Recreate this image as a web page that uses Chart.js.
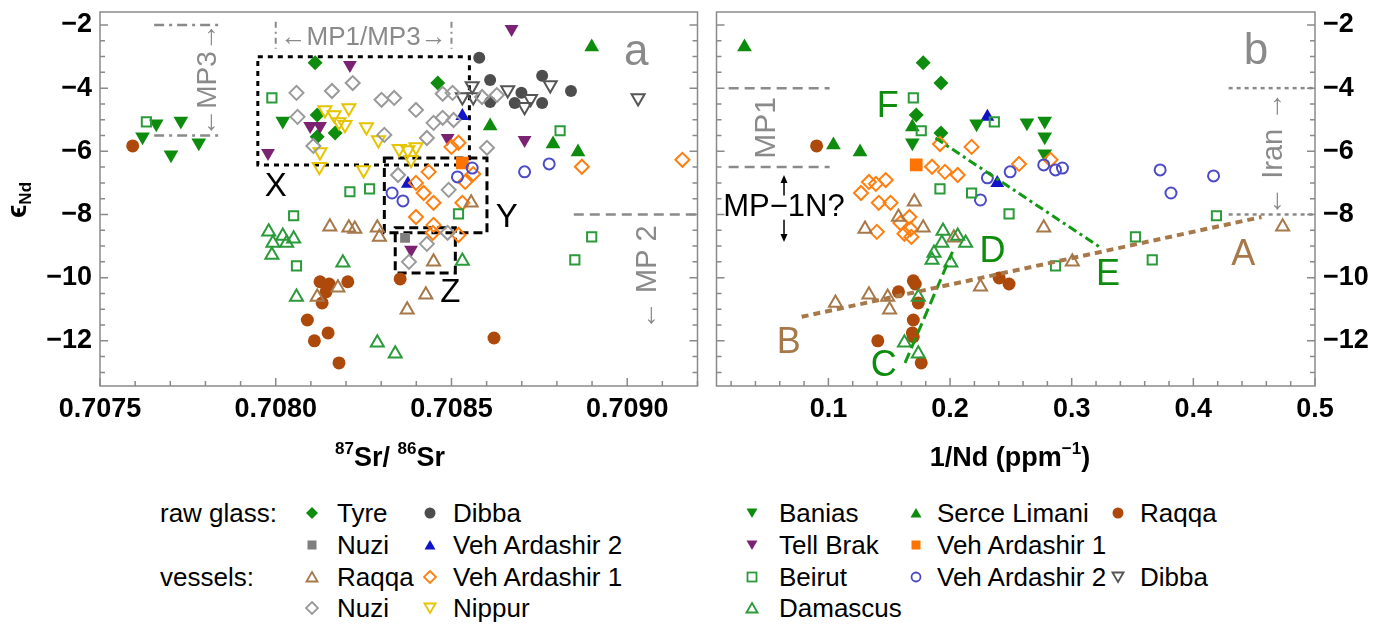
<!DOCTYPE html>
<html>
<head>
<meta charset="utf-8">
<title>Sr-Nd vidrio</title>
<script src="https://cdn.jsdelivr.net/npm/chart.js@4.4.1/dist/chart.umd.min.js"></script>
<style>
  body { margin: 0; background: #fff; }
  #pagina { position: relative; width: 1382px; height: 626px; overflow: hidden; font-family: "Liberation Sans", Arial, sans-serif; }
  #panelA { position: absolute; left: 0; top: 0; }
  #panelB { position: absolute; left: 707px; top: 0; }
  .ley { position: absolute; font-size: 26px; line-height: 30px; color: #000; white-space: nowrap; }
  .marca { position: absolute; }
</style>
</head>
<body>
<div id="pagina">
  <canvas id="panelA" width="707" height="480"></canvas>
  <canvas id="panelB" width="675" height="480"></canvas>
  <div id="leyenda"></div>
</div>
<script>
// ejes
const xTicksSr = [0.7075, 0.7080, 0.7085, 0.7090]
const xTicksNd = [0.1, 0.2, 0.3, 0.4, 0.5]
const yTicks = [-2, -4, -6, -8, -10, -12]

// panel a: 87Sr/86Sr vs eNd
const tyreSr = [0.708112, 0.708461, 0.708118, 0.708169, 0.708118]
const tyreEa = [-3.20, -3.84, -4.85, -5.42, -5.54]
const nuziRawSr = [0.708368]
const nuziRawEa = [-8.74]
const dibbaRawSr = [0.708579, 0.708610, 0.708758, 0.708840, 0.708699, 0.708680, 0.708758, 0.708610]
const dibbaRawEa = [-3.04, -3.74, -3.61, -4.09, -4.15, -4.47, -4.47, -4.44]
const va2RawSr = [0.708531, 0.708376]
const va2RawEa = [-4.88, -7.03]
const baniasSr = [0.707621, 0.707660, 0.707730, 0.707702, 0.707781, 0.708020]
const baniasEa = [-5.54, -5.13, -5.04, -6.11, -5.73, -5.04]
const tellBrakSr = [0.708671, 0.708211, 0.708098, 0.708126, 0.707978, 0.708489, 0.708708, 0.708385]
const tellBrakEa = [-2.13, -3.27, -5.20, -5.20, -6.05, -5.58, -5.64, -9.12]
const serceSr = [0.708899, 0.708610, 0.708789, 0.708860]
const serceEa = [-2.70, -5.20, -5.77, -6.02]
const va1RawSr = [0.708531]
const va1RawEa = [-6.37]
const raqqaRawSr = [0.707593, 0.708126, 0.708152, 0.708205, 0.708143, 0.708132, 0.708090, 0.708110, 0.708149, 0.708180, 0.708354, 0.708621]
const raqqaRawEa = [-5.83, -10.13, -10.20, -10.13, -10.45, -10.80, -11.34, -12.00, -11.75, -12.70, -10.04, -11.91]
const raqqaVesSr = [0.708154, 0.708208, 0.708225, 0.708289, 0.708295, 0.708449, 0.708177, 0.708118, 0.708427, 0.708374, 0.708556]
const raqqaVesEa = [-8.39, -8.42, -8.46, -8.42, -8.71, -9.50, -10.32, -10.61, -10.54, -11.02, -7.63]
const va1VesSr = [0.708500, 0.708520, 0.708871, 0.709157, 0.708435, 0.708399, 0.708539, 0.708562, 0.708421, 0.708449, 0.708531, 0.708399, 0.708449, 0.708447, 0.708520]
const va1VesEa = [-5.86, -5.73, -6.49, -6.27, -6.65, -7.00, -6.97, -6.72, -7.32, -7.63, -7.63, -8.08, -8.33, -8.58, -8.65]
const beirutSr = [0.707989, 0.707632, 0.708809, 0.708211, 0.708267, 0.708051, 0.708059, 0.708520, 0.708899, 0.708851]
const beirutEa = [-4.31, -5.07, -5.35, -7.28, -7.19, -8.04, -9.63, -7.98, -8.71, -9.44]
const va2VesSr = [0.708708, 0.708778, 0.708517, 0.708559, 0.708331, 0.708362]
const va2VesEa = [-6.65, -6.40, -6.81, -6.53, -7.32, -7.57]
const dibbaVesSr = [0.708559, 0.708531, 0.708562, 0.708660, 0.708725, 0.708708, 0.708781, 0.709031]
const dibbaVesEa = [-3.93, -4.28, -4.28, -4.06, -4.34, -4.59, -3.90, -4.31]
const nuziVesSr = [0.708059, 0.708160, 0.708219, 0.708062, 0.708301, 0.708337, 0.708399, 0.708475, 0.708503, 0.708449, 0.708475, 0.708506, 0.708309, 0.708430, 0.708107, 0.708348, 0.708587, 0.708629, 0.708601, 0.708492, 0.708430, 0.708379, 0.708489]
const nuziVesEa = [-4.15, -4.09, -3.84, -4.91, -4.37, -4.31, -4.69, -4.18, -4.15, -5.10, -4.94, -5.01, -5.48, -5.58, -5.83, -6.75, -4.28, -4.22, -5.89, -7.22, -8.93, -9.50, -8.58]
const nippurSr = [0.708140, 0.708166, 0.708208, 0.708180, 0.708197, 0.708258, 0.708292, 0.708126, 0.708351, 0.708376, 0.708399, 0.708124, 0.708250, 0.708385]
const nippurEa = [-4.69, -4.85, -4.63, -5.07, -5.16, -5.23, -5.64, -6.02, -5.92, -5.96, -5.86, -6.49, -6.59, -6.27]
const damascusSr = [0.707980, 0.708020, 0.708051, 0.707992, 0.708031, 0.707989, 0.708191, 0.708059, 0.708289, 0.708340, 0.708531]
const damascusEa = [-8.55, -8.68, -8.77, -8.90, -8.90, -9.28, -9.53, -10.61, -12.06, -12.41, -9.47]

// panel b: 1/Nd vs eNd
const tyreInv = [0.1779, 0.1925, 0.1722, 0.1925]
const tyreEb = [-3.20, -3.84, -4.85, -5.42]
const serceInv = [0.0310, 0.1041, 0.1260, 0.1690]
const serceEb = [-2.70, -5.80, -6.02, -5.23]
const raqqaRawInv = [0.0903, 0.1698, 0.1714, 0.1576, 0.1739, 0.1698, 0.1690, 0.1698, 0.1406, 0.1763, 0.2404, 0.2485]
const raqqaRawEb = [-5.83, -10.10, -10.20, -10.45, -10.80, -11.34, -11.75, -11.87, -12.00, -12.70, -10.01, -10.20]
const baniasInv = [0.1690, 0.2218, 0.2632, 0.2778, 0.2778, 0.2778]
const baniasEb = [-5.73, -5.13, -5.10, -5.04, -5.54, -6.08]
const beirutInv = [0.1698, 0.1763, 0.2364, 0.1917, 0.2177, 0.2485, 0.2867, 0.3524, 0.3662, 0.4190]
const beirutEb = [-4.31, -5.35, -5.07, -7.19, -7.32, -7.98, -9.63, -8.71, -9.44, -8.04]
const va2RawInv = [0.2307, 0.2388]
const va2RawEb = [-4.91, -7.00]
const va1RawInv = [0.1722]
const va1RawEb = [-6.43]
const va1VesInv = [0.1917, 0.2177, 0.1852, 0.1958, 0.2063, 0.2567, 0.2826, 0.1333, 0.1390, 0.1471, 0.1268, 0.1414, 0.1511, 0.1666, 0.1592, 0.1674, 0.1625, 0.1682, 0.1398]
const va1VesEb = [-5.77, -5.86, -6.49, -6.65, -6.75, -6.40, -6.27, -6.97, -7.03, -6.91, -7.32, -7.63, -7.63, -8.08, -8.27, -8.46, -8.61, -8.71, -8.55]
const va2VesInv = [0.2307, 0.2494, 0.2250, 0.2770, 0.2867, 0.2924, 0.3727, 0.3816, 0.4166]
const va2VesEb = [-6.84, -6.65, -7.54, -6.43, -6.59, -6.53, -6.59, -7.32, -6.78]
const raqqaVesInv = [0.1706, 0.1576, 0.1301, 0.1779, 0.2031, 0.2770, 0.1058, 0.1333, 0.1487, 0.1503, 0.2250, 0.3005, 0.4734]
const raqqaVesEb = [-7.60, -8.08, -8.46, -8.42, -8.74, -8.42, -10.80, -10.54, -10.61, -11.02, -10.29, -9.50, -8.39]
const damascusInv = [0.1942, 0.1933, 0.2128, 0.1868, 0.1852, 0.2006, 0.1739, 0.1625, 0.1739, 0.2063]
const damascusEb = [-8.52, -8.90, -8.90, -9.22, -9.44, -9.53, -10.61, -12.06, -12.41, -8.68]

// lineas de mezcla
const mezclaBAx = [0.078, 0.456]
const mezclaBAy = [-11.24, -8.08]
const mezclaCDx = [0.163, 0.202]
const mezclaCDy = [-12.70, -9.18]
const mezclaFEx = [0.188, 0.323]
const mezclaFEy = [-5.58, -9.03]

// estilos
const verde = "#0e8c0e"
const verdeClaro = "#2a9a3a"
const gris = "#8a8a8a"
const cafe = "#a6784a"
const est = {
  tyre: { forma: "rectRot", r: 7.5, color: verde, relleno: true },
  nuziRaw: { forma: "rect", r: 7, color: "#7f7f7f", relleno: true },
  dibbaRaw: { forma: "circle", r: 6, color: "#4d4d4d", relleno: true },
  va2Raw: { forma: "triangle", r: 8, color: "#1212c8", relleno: true },
  banias: { forma: "triangle", r: 8.5, rot: 180, color: verde, relleno: true },
  tellBrak: { forma: "triangle", r: 8, rot: 180, color: "#7b2272", relleno: true },
  serce: { forma: "triangle", r: 8.5, color: verde, relleno: true },
  va1Raw: { forma: "rect", r: 9, color: "#ff7400", relleno: true },
  raqqaRaw: { forma: "circle", r: 6.5, color: "#ad4a0b", relleno: true },
  raqqaVes: { forma: "triangle", r: 7.5, color: cafe },
  va1Ves: { forma: "rectRot", r: 7, color: "#ff7f10" },
  beirut: { forma: "rect", r: 6.5, color: verdeClaro },
  va2Ves: { forma: "circle", r: 5.5, color: "#4b4bc8" },
  dibbaVes: { forma: "triangle", r: 7.5, rot: 180, color: "#555555" },
  nuziVes: { forma: "rectRot", r: 7, color: "#9a9a9a" },
  nippur: { forma: "triangle", r: 7.5, rot: 180, color: "#e6c400" },
  damascus: { forma: "triangle", r: 7.5, color: verdeClaro }
}

function serie(xs, ys, st) {
  return {
    data: xs.map((x, i) => ({ x: x, y: ys[i] })),
    showLine: false,
    pointStyle: st.forma,
    pointRadius: st.r,
    pointHoverRadius: st.r,
    pointRotation: st.rot || 0,
    pointBackgroundColor: st.relleno ? st.color : "rgba(0,0,0,0)",
    pointBorderColor: st.color,
    pointBorderWidth: st.relleno ? 0 : 2
  }
}

function linea(xs, ys, color, ancho, guiones) {
  return {
    data: xs.map((x, i) => ({ x: x, y: ys[i] })),
    showLine: true,
    borderColor: color,
    borderWidth: ancho,
    borderDash: guiones,
    pointRadius: 0,
    pointHoverRadius: 0
  }
}

//funcion para texto con super/subindices
function textoRico(ctx, partes, cx, base) {
  let total = 0
  partes.forEach(p => {
    ctx.font = `bold ${p.s}px "Liberation Sans", "DejaVu Sans", sans-serif`
    p.w = ctx.measureText(p.t).width
    total += p.w
  })
  let x = cx - total / 2
  ctx.textAlign = "left"
  ctx.textBaseline = "alphabetic"
  partes.forEach(p => {
    ctx.font = `bold ${p.s}px "Liberation Sans", "DejaVu Sans", sans-serif`
    ctx.fillText(p.t, x, base + (p.dy || 0))
    x += p.w
  })
}

//marco y marcas internas
function marco(chart, cfg) {
  const { ctx, chartArea: a, scales } = chart
  const sx = scales.x, sy = scales.y
  ctx.save()
  ctx.strokeStyle = gris
  ctx.lineWidth = 1.5
  ctx.strokeRect(a.left, a.top, a.right - a.left, a.bottom - a.top)
  ctx.beginPath()
  for (let i = 0; i < 200; i++) {
    const v = cfg.x0 + i * cfg.paso
    if (v > sx.max + 1e-9) break
    if (v < sx.min) continue
    const p = sx.getPixelForValue(v)
    const largo = i % 5 === 0 ? 8 : 5
    ctx.moveTo(p, a.bottom)
    ctx.lineTo(p, a.bottom - largo)
  }
  for (let v = -13; v <= -2; v += 0.5) {
    const p = sy.getPixelForValue(v)
    const largo = v % 2 === 0 ? 8 : 5
    ctx.moveTo(a.left, p)
    ctx.lineTo(a.left + largo, p)
    ctx.moveTo(a.right, p)
    ctx.lineTo(a.right - largo, p)
  }
  ctx.stroke()
  ctx.restore()
}

function dibujarNota(chart, m) {
  const { ctx } = chart
  const X = v => chart.scales.x.getPixelForValue(v)
  const Y = v => chart.scales.y.getPixelForValue(v)
  ctx.save()
  ctx.strokeStyle = m.color || "#000"
  ctx.fillStyle = m.color || "#000"
  ctx.lineWidth = m.w || 2
  ctx.setLineDash(m.dash || [])
  if (m.tipo === "seg") {
    ctx.beginPath()
    ctx.moveTo(X(m.x1), Y(m.y1))
    ctx.lineTo(X(m.x2), Y(m.y2))
    ctx.stroke()
  } else if (m.tipo === "caja") {
    ctx.strokeRect(X(m.x1), Y(m.y1), X(m.x2) - X(m.x1), Y(m.y2) - Y(m.y1))
  } else if (m.tipo === "flecha") {
    const x = X(m.x), a = Y(m.y1), b = Y(m.y2)
    const d = b > a ? 1 : -1
    ctx.lineWidth = 1.5
    ctx.beginPath()
    ctx.moveTo(x, a)
    ctx.lineTo(x, b - d * 4)
    ctx.stroke()
    ctx.beginPath()
    ctx.moveTo(x, b)
    ctx.lineTo(x - 3.5, b - d * 8)
    ctx.lineTo(x + 3.5, b - d * 8)
    ctx.closePath()
    ctx.fill()
  } else if (m.tipo === "texto") {
    ctx.font = `${m.s}px "Liberation Sans", Arial, sans-serif`
    ctx.textAlign = m.al || "center"
    ctx.textBaseline = "middle"
    ctx.translate(X(m.x), Y(m.y))
    if (m.rot) ctx.rotate(-Math.PI / 2)
    ctx.fillText(m.t, 0, 0)
  }
  ctx.restore()
}

function hacerDeco(cfg) {
  return {
    id: "deco",
    beforeDatasetsDraw(chart) {
      marco(chart, cfg)
      cfg.notas.filter(m => m.tipo !== "texto").forEach(m => dibujarNota(chart, m))
    },
    afterDatasetsDraw(chart) {
      cfg.notas.filter(m => m.tipo === "texto").forEach(m => dibujarNota(chart, m))
      cfg.titulo(chart.ctx)
    }
  }
}

const notasA = [
  { tipo: "seg", x1: 0.707654, x2: 0.707837, y1: -2, y2: -2, color: gris, w: 2.5, dash: [10, 5, 3, 5] },
  { tipo: "seg", x1: 0.707654, x2: 0.707837, y1: -5.5, y2: -5.5, color: gris, w: 2.5, dash: [10, 5, 3, 5] },
  { tipo: "seg", x1: 0.7080, x2: 0.7080, y1: -1.9, y2: -2.75, color: gris, w: 2, dash: [6, 4, 2, 4] },
  { tipo: "seg", x1: 0.7085, x2: 0.7085, y1: -1.9, y2: -2.75, color: gris, w: 2, dash: [6, 4, 2, 4] },
  { tipo: "seg", x1: 0.708848, x2: 0.7092, y1: -8, y2: -8, color: gris, w: 2.5, dash: [10, 6] },
  { tipo: "caja", x1: 0.707949, x2: 0.708551, y1: -3.01, y2: -6.43, w: 3, dash: [5, 5] },
  { tipo: "caja", x1: 0.708309, x2: 0.708601, y1: -6.21, y2: -8.58, w: 3, dash: [9, 5] },
  { tipo: "caja", x1: 0.708340, x2: 0.708511, y1: -8.42, y2: -9.85, w: 3, dash: [9, 5] },
  { tipo: "texto", t: "X", x: 0.708000, y: -7.13, s: 33 },
  { tipo: "texto", t: "Y", x: 0.708657, y: -8.11, s: 33 },
  { tipo: "texto", t: "Z", x: 0.708497, y: -10.48, s: 33 },
  { tipo: "texto", t: "a", x: 0.709026, y: -2.89, s: 44, color: gris },
  { tipo: "texto", t: "←MP1/MP3→", x: 0.708250, y: -2.41, s: 26, color: gris },
  { tipo: "texto", t: "←MP3→", x: 0.707809, y: -3.74, s: 28, color: gris, rot: true },
  { tipo: "texto", t: "← MP 2", x: 0.709059, y: -10.0, s: 29, color: gris, rot: true }
]

const notasB = [
  { tipo: "seg", x1: 0.018, x2: 0.101, y1: -4, y2: -4, color: gris, w: 2.5, dash: [10, 6] },
  { tipo: "seg", x1: 0.018, x2: 0.101, y1: -6.5, y2: -6.5, color: gris, w: 2.5, dash: [10, 6] },
  { tipo: "seg", x1: 0.429, x2: 0.5, y1: -4, y2: -4, color: gris, w: 2.5, dash: [4, 4] },
  { tipo: "seg", x1: 0.429, x2: 0.5, y1: -8, y2: -8, color: gris, w: 2.5, dash: [4, 4] },
  { tipo: "flecha", x: 0.0635, y1: -7.4, y2: -6.75 },
  { tipo: "flecha", x: 0.0635, y1: -8.17, y2: -8.87 },
  { tipo: "texto", t: "MP1", x: 0.0497, y: -5.26, s: 30, color: gris, rot: true },
  { tipo: "texto", t: "MP−1N?", x: 0.0135, y: -7.79, s: 31, al: "left" },
  { tipo: "texto", t: "← Iran →", x: 0.4661, y: -6.08, s: 29, color: gris, rot: true },
  { tipo: "texto", t: "b", x: 0.4515, y: -2.85, s: 44, color: gris },
  { tipo: "texto", t: "F", x: 0.1487, y: -4.59, s: 36, color: verde },
  { tipo: "texto", t: "C", x: 0.1455, y: -12.8, s: 36, color: verde },
  { tipo: "texto", t: "D", x: 0.2348, y: -9.18, s: 36, color: verde },
  { tipo: "texto", t: "E", x: 0.3298, y: -9.91, s: 36, color: verde },
  { tipo: "texto", t: "A", x: 0.4410, y: -9.28, s: 36, color: cafe },
  { tipo: "texto", t: "B", x: 0.0674, y: -12.06, s: 36, color: cafe }
]

const fuenteTick = { family: "Liberation Sans", size: 27, weight: "bold" }
const menos = v => (v < 0 ? "\u2212" : "") + Math.abs(v)

function ejeY(posicion, ancho, mostrar) {
  return {
    type: "linear", position: posicion, min: -13.43, max: -1.59,
    grid: { display: false, drawTicks: false }, border: { display: false },
    ticks: { display: mostrar, color: "#000", font: fuenteTick, padding: 8, callback: menos },
    afterBuildTicks: s => { s.ticks = yTicks.map(v => ({ value: v })) },
    afterFit: s => { s.width = ancho; s.paddingTop = 0; s.paddingBottom = 0 }
  }
}

function ejeX(min, max, marcas, dec) {
  return {
    type: "linear", position: "bottom", min: min, max: max,
    grid: { display: false, drawTicks: false }, border: { display: false },
    ticks: { color: "#000", font: fuenteTick, padding: 7, maxRotation: 0, autoSkip: false, callback: v => v.toFixed(dec) },
    afterBuildTicks: s => { s.ticks = marcas.map(v => ({ value: v })) },
    afterFit: s => { s.height = 94; s.paddingLeft = 0; s.paddingRight = 0 }
  }
}

const opcionesBase = {
  responsive: false, animation: false, devicePixelRatio: 1,
  plugins: { legend: { display: false }, tooltip: { enabled: false } },
  events: []
}

//panel a
const datosA = [
  serie(damascusSr, damascusEa, est.damascus),
  serie(raqqaVesSr, raqqaVesEa, est.raqqaVes),
  serie(beirutSr, beirutEa, est.beirut),
  serie(nuziVesSr, nuziVesEa, est.nuziVes),
  serie(nippurSr, nippurEa, est.nippur),
  serie(va2VesSr, va2VesEa, est.va2Ves),
  serie(va1VesSr, va1VesEa, est.va1Ves),
  serie(dibbaVesSr, dibbaVesEa, est.dibbaVes),
  serie(dibbaRawSr, dibbaRawEa, est.dibbaRaw),
  serie(raqqaRawSr, raqqaRawEa, est.raqqaRaw),
  serie(nuziRawSr, nuziRawEa, est.nuziRaw),
  serie(va1RawSr, va1RawEa, est.va1Raw),
  serie(serceSr, serceEa, est.serce),
  serie(baniasSr, baniasEa, est.banias),
  serie(tellBrakSr, tellBrakEa, est.tellBrak),
  serie(va2RawSr, va2RawEa, est.va2Raw),
  serie(tyreSr, tyreEa, est.tyre)
]

new Chart(document.querySelector("#panelA"), {
  type: "scatter",
  data: { datasets: datosA },
  options: Object.assign({}, opcionesBase, {
    layout: { padding: { top: 12, right: 2, left: 0, bottom: 0 } },
    scales: { x: ejeX(0.7075, 0.7092, xTicksSr, 4), y: ejeY("left", 100, true) }
  }),
  plugins: [hacerDeco({
    x0: 0.7075, paso: 0.0001, notas: notasA,
    titulo: ctx => {
      ctx.save()
      ctx.fillStyle = "#000"
      textoRico(ctx, [{ t: "87", s: 17, dy: -12 }, { t: "Sr/ ", s: 27 }, { t: "86", s: 17, dy: -12 }, { t: "Sr", s: 27 }], 390, 466)
      ctx.translate(18, 200)
      ctx.rotate(-Math.PI / 2)
      textoRico(ctx, [{ t: "\u03F5", s: 28 }, { t: "Nd", s: 17, dy: 5 }], 0, 8)
      ctx.restore()
    }
  })]
})

//panel b
const datosB = [
  linea(mezclaBAx, mezclaBAy, cafe, 4, [7, 5]),
  linea(mezclaCDx, mezclaCDy, "#139a13", 3, [11, 5]),
  linea(mezclaFEx, mezclaFEy, "#139a13", 3, [9, 4, 3, 4]),
  serie(damascusInv, damascusEb, est.damascus),
  serie(raqqaVesInv, raqqaVesEb, est.raqqaVes),
  serie(beirutInv, beirutEb, est.beirut),
  serie(va2VesInv, va2VesEb, est.va2Ves),
  serie(va1VesInv, va1VesEb, est.va1Ves),
  serie(raqqaRawInv, raqqaRawEb, est.raqqaRaw),
  serie(va1RawInv, va1RawEb, est.va1Raw),
  serie(serceInv, serceEb, est.serce),
  serie(baniasInv, baniasEb, est.banias),
  serie(va2RawInv, va2RawEb, est.va2Raw),
  serie(tyreInv, tyreEb, est.tyre)
]

new Chart(document.querySelector("#panelB"), {
  type: "scatter",
  data: { datasets: datosB },
  options: Object.assign({}, opcionesBase, {
    layout: { padding: { top: 12, right: 0, left: 2, bottom: 0 } },
    scales: { x: ejeX(0.008, 0.5, xTicksNd, 1), y: ejeY("right", 67, true) }
  }),
  plugins: [hacerDeco({
    x0: 0, paso: 0.02, notas: notasB,
    titulo: ctx => {
      ctx.save()
      ctx.fillStyle = "#000"
      textoRico(ctx, [{ t: "1/Nd (ppm", s: 27 }, { t: "\u22121", s: 17, dy: -12 }, { t: ")", s: 27 }], 303, 466)
      ctx.restore()
    }
  })]
})

//leyenda
const filas = [513, 545, 577, 608]
const colMarca = [312, 430, 752, 916, 1118]
const colTexto = [337, 453, 779, 937, 1140]
const entradas = [
  [["tyre", "Tyre"], ["dibbaRaw", "Dibba"], ["banias", "Banias"], ["serce", "Serce Limani"], ["raqqaRaw", "Raqqa"]],
  [["nuziRaw", "Nuzi"], ["va2Raw", "Veh Ardashir 2"], ["tellBrak", "Tell Brak"], ["va1Raw", "Veh Ardashir 1"]],
  [["raqqaVes", "Raqqa"], ["va1Ves", "Veh Ardashir 1"], ["beirut", "Beirut"], ["va2Ves", "Veh Ardashir 2"], ["dibbaVes", "Dibba"]],
  [["nuziVes", "Nuzi"], ["nippur", "Nippur"], ["damascus", "Damascus"]]
]

function svgMarca(st) {
  const f = st.relleno ? st.color : "none"
  const b = `stroke="${st.color}" stroke-width="${st.relleno ? 0 : 1.8}" fill="${f}"`
  let forma = ""
  if (st.forma === "rectRot") forma = `<polygon points="7,1 13,7 7,13 1,7" ${b}/>`
  else if (st.forma === "rect") forma = `<rect x="2.5" y="2.5" width="9" height="9" ${b}/>`
  else if (st.forma === "circle") forma = `<circle cx="7" cy="7" r="${st.relleno ? 5.5 : 4.5}" ${b}/>`
  else if (st.rot) forma = `<polygon points="1.5,2.5 12.5,2.5 7,12" ${b}/>`
  else forma = `<polygon points="7,2 12.5,11.5 1.5,11.5" ${b}/>`
  return `<svg width="14" height="14" viewBox="0 0 14 14">${forma}</svg>`
}

let html = ""
html += `<div class="ley" style="left:160px;top:${filas[0] - 15}px">raw glass:</div>`
html += `<div class="ley" style="left:160px;top:${filas[2] - 15}px">vessels:</div>`
entradas.forEach((fila, r) => {
  fila.forEach(([clave, texto], c) => {
    const y = filas[r]
    html += `<div class="marca" style="left:${colMarca[c] - 7}px;top:${y - 7}px">${svgMarca(est[clave])}</div>`
    html += `<div class="ley" style="left:${colTexto[c]}px;top:${y - 15}px">${texto}</div>`
  })
})
document.querySelector("#leyenda").innerHTML = html
</script>
</body>
</html>
